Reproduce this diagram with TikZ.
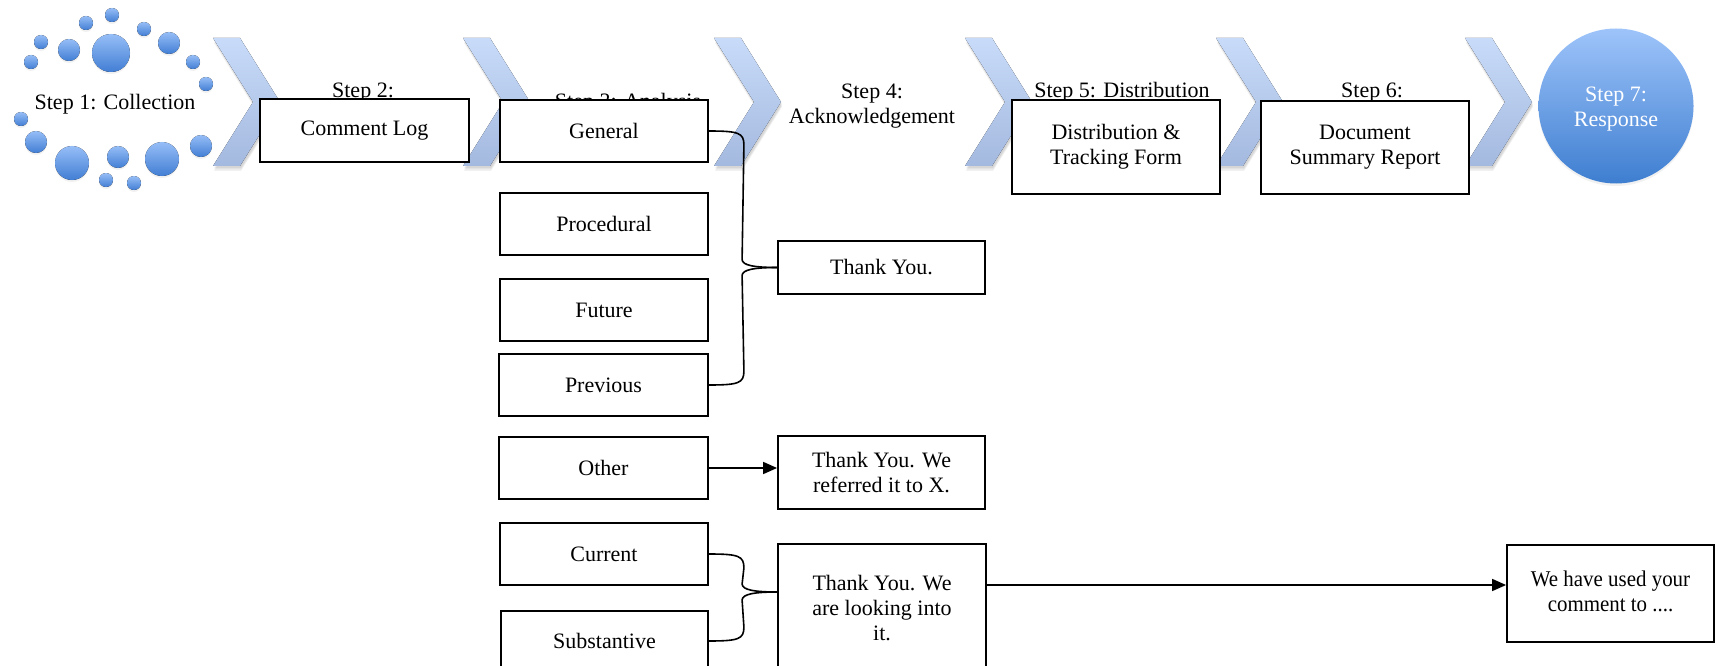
\documentclass[tikz,border=0pt]{standalone}
\usepackage{fontspec}
\setmainfont{Liberation Serif}
\usetikzlibrary{arrows.meta,calc}

\definecolor{chevTop}{RGB}{200,219,249}
\definecolor{chevBot}{RGB}{164,185,223}
\definecolor{dotTop}{RGB}{150,190,247}
\definecolor{dotBot}{RGB}{66,126,212}
\definecolor{ringTop}{RGB}{158,196,250}
\definecolor{ringBot}{RGB}{62,126,208}

\tikzset{
  label font/.style={font=\fontsize{22}{25}\selectfont},
  box/.style={draw=black, line width=1.8pt, fill=white, inner sep=0pt,
    align=center, label font},
  steptext/.style={inner sep=0pt, align=center, label font},
  conn/.style={draw=black, line width=1.6pt},
  arr/.style={conn, -{Triangle[length=14pt,width=12pt]}},
  shade layer/.style={fill=black, opacity=0.055},
  % chevron with a soft shadow built from a few faint offset copies
  chevronshape/.pic={
    \foreach \s in {2,3.5,5}
      \fill[shade layer, shift={(1,\s)}]
        (0,0) -- (27,0) -- (67,64) -- (27,128) -- (0,128) -- (40,64) -- cycle;
    \fill[top color=chevTop, bottom color=chevBot]
      (0,0) -- (27,0) -- (67,64) -- (27,128) -- (0,128) -- (40,64) -- cycle;
  }
}

\begin{document}
\begin{tikzpicture}[x=1pt, y=-1pt]
\clip (0,0) rectangle (1727,666);
\fill[white] (0,0) rectangle (1727,666);

% ring of bubbles around the first step
\foreach \bx/\by/\br in {112/15/7, 86/23/7, 144/29/7, 41/42/7, 69/50/11,
    111/53/19, 169/43/11, 193/62/7, 31/62/7, 206/84/7, 21/119/7, 36/142/11,
    72/163/17, 118/157/11, 162/159/17, 201/146/11, 106/180/7, 134/183/7}{
  \fill[shade layer] (\bx,\by+2) circle[radius=\br];
  \fill[top color=dotTop, bottom color=dotBot] (\bx,\by) circle[radius=\br];
}

% process chevrons
\foreach \cx in {213,463,714,965,1216,1465}
  \pic at (\cx,38) {chevronshape};

% final step circle
\fill[shade layer] (1616,108.5) circle[radius=77.5];
\node[circle, minimum size=155pt, inner sep=0pt, top color=ringTop,
  bottom color=ringBot] (resp) at (1616,106) {};
\node[steptext, text=white] (s7) at (1616,109) {Step 7:\\Response};

% step captions
\node[steptext, anchor=base] (s1) at (115,110) {Step 1: Collection};
\node[steptext, anchor=base] (s2) at (363,98) {Step 2:};
\node[steptext, anchor=base] (s3) at (628,109) {Step 3: Analysis};
\node[steptext] (s4) at (872,106) {Step 4:\\Acknowledgement};
\node[steptext, anchor=base] (s5) at (1122,98) {Step 5: Distribution};
\node[steptext, anchor=base] (s6) at (1372,98) {Step 6:};

% boxes
\node[box, minimum width=209pt, minimum height=63pt] (log) at (364.5,130.5) {Comment Log};
\node[box, minimum width=208pt, minimum height=94pt] (dist) at (1116,147) {Distribution \&\\Tracking Form};
\node[box, minimum width=208pt, minimum height=93pt] (doc) at (1365,147.5) {Document\\Summary Report};

\node[box, minimum width=208pt, minimum height=62pt] (gen) at (604,131) {General};
\node[box, minimum width=208pt, minimum height=62pt] (proc) at (604,224) {Procedural};
\node[box, minimum width=208pt, minimum height=62pt] (fut) at (604,310) {Future};
\node[box, minimum width=209pt, minimum height=62pt] (prev) at (603.5,385) {Previous};
\node[box, minimum width=209pt, minimum height=62pt] (oth) at (603.5,468) {Other};
\node[box, minimum width=208pt, minimum height=62pt] (cur) at (604,554) {Current};
\node[box, minimum width=207pt, minimum height=60pt] (sub) at (604.5,641) {Substantive};

\node[box, minimum width=207pt, minimum height=53pt] (ty) at (881.5,267.5) {Thank You.};
\node[box, minimum width=207pt, minimum height=73pt] (ref) at (881.5,472.5) {Thank You. We\\referred it to X.};
\node[box, minimum width=208pt, minimum height=128pt] (look) at (882,608) {Thank You. We\\are looking into\\it.};
\node[box, minimum width=207pt, minimum height=97pt] (used) at (1610.5,593.5)
  {\scalebox{0.93}[1]{\fontsize{22.5}{25}\selectfont
   \begin{tabular}{@{}c@{}}We have used your\\comment to ....\end{tabular}}};

% brace joining General and Previous to the first reply
\draw[conn] (gen.east) .. controls +(30,0) and +(0,-12) .. ($(gen.east)+(35,14)$)
  -- ($(ty.west)+(-35,-8)$) .. controls +(0,6) and +(-22,0) .. (ty.west);
\draw[conn] (prev.east) .. controls +(30,0) and +(0,12) .. ($(prev.east)+(35,-14)$)
  -- ($(ty.west)+(-35,8)$) .. controls +(0,-6) and +(-22,0) .. (ty.west);

% Other goes to the referral reply
\draw[arr] (oth.east) -- (oth.east -| ref.west);

% brace joining Current and Substantive
\coordinate (lookin) at ($(look.west)+(0,-16)$);
\draw[conn] (cur.east) .. controls +(30,0) and +(0,-12) .. ($(cur.east)+(35,14)$)
  -- ($(lookin)+(-35,-8)$) .. controls +(0,6) and +(-22,0) .. (lookin);
\draw[conn] (sub.east) .. controls +(30,0) and +(0,12) .. ($(sub.east)+(35,-14)$)
  -- ($(lookin)+(-35,8)$) .. controls +(0,-6) and +(-22,0) .. (lookin);

% final reply
\coordinate (lookout) at ($(look.east)+(0,-23)$);
\draw[arr] (lookout) -- (lookout -| used.west);
\end{tikzpicture}
\end{document}
